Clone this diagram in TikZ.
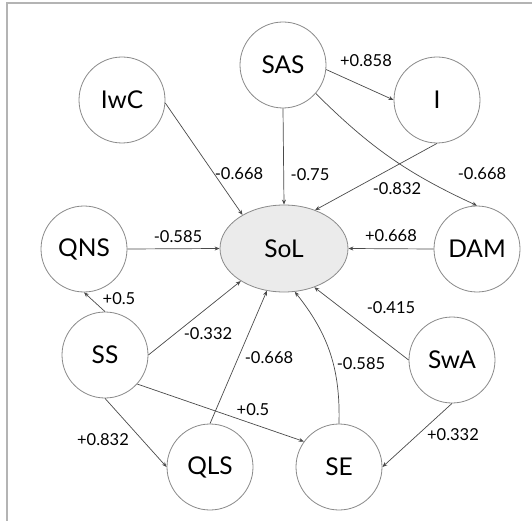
\documentclass[tikz,border=0pt]{standalone}
\usepackage{fontspec}
\setmainfont{Lato}
\usetikzlibrary{arrows.meta,shapes.geometric}

\definecolor{edgecol}{HTML}{4A4A4A}
\definecolor{ringcol}{HTML}{8A8A8A}
\definecolor{framecol}{HTML}{B4B4B4}
\definecolor{hubfill}{HTML}{EBEBEB}

\tikzset{
  factor/.style={circle, draw=ringcol, line width=0.8pt, fill=white,
    minimum size=86pt, inner sep=0pt, font=\fontsize{24.5}{26}\selectfont},
  hub/.style={ellipse, draw=ringcol, line width=0.8pt, fill=hubfill,
    minimum width=128pt, minimum height=87pt, inner sep=0pt,
    font=\fontsize{24.5}{26}\selectfont},
  link/.style={draw=edgecol, line width=0.7pt,
    -{Stealth[length=5pt,width=4pt]}},
  weight/.style={inner sep=0pt, font=\fontsize{16.5}{18}\selectfont},
}

\begin{document}
\begin{tikzpicture}[x=1pt, y=-1pt]
  \useasboundingbox (0,0) rectangle (532,521);

  % partial frame: top and left rules
  \draw[framecol, line width=2pt] (532,3) -- (7,3) -- (7,521);

  % nodes
  \node[hub]    (SoL) at (284,248.5) {SoL};
  \node[factor] (SAS) at (283,65)  {SAS};
  \node[factor] (I)   at (437,100) {I};
  \node[factor] (IwC) at (122,100) {IwC};
  \node[factor] (QNS) at (84,249)  {QNS};
  \node[factor] (DAM) at (477,249) {DAM};
  \node[factor] (SS)  at (105,355) {SS};
  \node[factor] (SwA) at (452,360) {SwA};
  \node[factor] (QLS) at (210,467) {QLS};
  \node[factor] (SE)  at (339,467) {SE};

  % connectors
  \draw[link] (SAS.-6)   -- (I.west);
  \draw[link] (SAS.south) -- (SoL.north);
  \draw[link] (SAS.-41)  to[bend right=10] (DAM.north);
  \draw[link] (I.south)  -- (SoL.51);
  \draw[link] (IwC.-4)   -- (SoL.141);
  \draw[link] (QNS.east) -- (SoL.west);
  \draw[link] (DAM.west) -- (SoL.east);
  \draw[link] (SS.north) -- (QNS.south);
  \draw[link] (SS.east)  -- (SoL.217);
  \draw[link] (QLS.north) -- (SoL.248);
  \draw[link] (SE.north) to[bend right=20] (SoL.284);
  \draw[link] (SwA.west) -- (SoL.308);
  \draw[link] (SwA.south) -- (SE.east);
  \draw[link] (SS.south) -- (QLS.west);
  \draw[link] (SS.-42)   -- (SE.144);

  % weights
  \node[weight] (w1)  at (366,61)  {+0.858};
  \node[weight] (w2)  at (310,175) {-0.75};
  \node[weight] (w3)  at (482,174) {-0.668};
  \node[weight] (w4)  at (397,189) {-0.832};
  \node[weight] (w5)  at (239,174) {-0.668};
  \node[weight] (w6)  at (178,237) {-0.585};
  \node[weight] (w7)  at (391,236) {+0.668};
  \node[weight] (w8)  at (119,299) {+0.5};
  \node[weight] (w9)  at (208,334) {-0.332};
  \node[weight] (w10) at (269,358) {-0.668};
  \node[weight] (w11) at (361,364) {-0.585};
  \node[weight] (w12) at (391,308) {-0.415};
  \node[weight] (w13) at (453,435) {+0.332};
  \node[weight] (w14) at (103,440) {+0.832};
  \node[weight] (w15) at (253,410) {+0.5};
\end{tikzpicture}
\end{document}
